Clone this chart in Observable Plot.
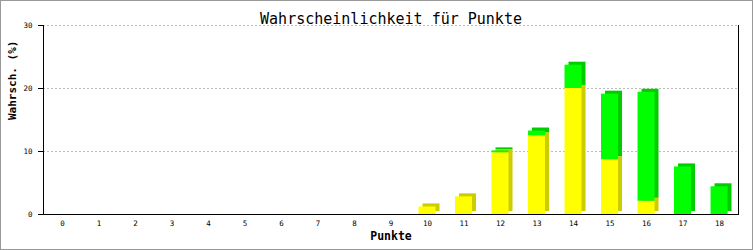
<!DOCTYPE html>
<html>
<head>
<meta charset="utf-8">
<script src="https://cdn.jsdelivr.net/npm/d3@7"></script>
<script src="https://cdn.jsdelivr.net/npm/@observablehq/plot@0.6"></script>
<style>
  html, body { margin: 0; padding: 0; background: #fff; }
  #wrap { position: relative; width: 753px; height: 250px; }
  #wrap svg { display: block; }
  #border { position: absolute; left: 0; top: 0; width: 753px; height: 250px; box-sizing: border-box; border: 1px solid #999; pointer-events: none; }
</style>
</head>
<body>
<div id="wrap"><div id="border"></div></div>
<script>
const punkte = [0,1,2,3,4,5,6,7,8,9,10,11,12,13,14,15,16,17,18];
const gelb   = [0,0,0,0,0,0,0,0,0,0,1.2,2.8,9.8,12.5,20.0,8.7,2.1,0,0];
const gruen  = [0,0,0,0,0,0,0,0,0,0,0,0,0.3,0.75,3.7,10.4,17.3,7.55,4.4];
const yTicks = [0,10,20,30];
const titel = "Wahrscheinlichkeit für Punkte";
const xTitel = "Punkte";
const yTitel = "Wahrsch. (%)";

const gelbData = punkte.map((p,i) => ({p, y1: 0, y2: gelb[i]})).filter(d => d.y2 > 0);
const gruenData = punkte.map((p,i) => ({p, y1: gelb[i], y2: gelb[i] + gruen[i]})).filter(d => d.y2 > d.y1);

const font = "DejaVu Sans Mono";
const plot = Plot.plot({
  width: 753,
  height: 250,
  marginTop: 25,
  marginBottom: 36,
  marginLeft: 43,
  marginRight: 15,
  style: {fontFamily: font, background: "transparent", color: "#000"},
  x: {type: "band", domain: punkte, paddingInner: 0.534, paddingOuter: 0.287, round: false, axis: null},
  y: {domain: [0, 30], axis: null},
  marks: [
    Plot.ruleY([10, 20, 30], {stroke: "#bbb", strokeDasharray: "2,2", strokeWidth: 1}),
    Plot.barY(gelbData, {x: "p", y1: "y1", y2: "y2", fill: "#cccc00", dx: 4, dy: -3}),
    Plot.barY(gruenData, {x: "p", y1: "y1", y2: "y2", fill: "#00cc00", dx: 4, dy: -3}),
    Plot.barY(gelbData, {x: "p", y1: "y1", y2: "y2", fill: "#ffff00"}),
    Plot.barY(gruenData, {x: "p", y1: "y1", y2: "y2", fill: "#00ff00"}),
    Plot.frame({anchor: "left", stroke: "#000"}),
    Plot.frame({anchor: "right", stroke: "#000"}),
    Plot.frame({anchor: "bottom", stroke: "#000"}),
    Plot.axisY({ticks: yTicks, tickSize: 5, tickPadding: 6, fontSize: 7.5, label: null, stroke: "#000"}),
    Plot.axisX({tickSize: 0, tickPadding: 6, fontSize: 7.5, label: null}),
    Plot.text([titel], {frameAnchor: "top", dy: -12, fontSize: 15, fill: "#000"}),
    Plot.text([xTitel], {frameAnchor: "bottom", dy: 25, fontSize: 11.5, fontWeight: "bold", fill: "#000"}),
    Plot.text([yTitel], {frameAnchor: "left", dx: -31, rotate: -90, fontSize: 11, fontWeight: "bold", fill: "#000"})
  ]
});
document.getElementById("wrap").prepend(plot);
</script>
</body>
</html>
